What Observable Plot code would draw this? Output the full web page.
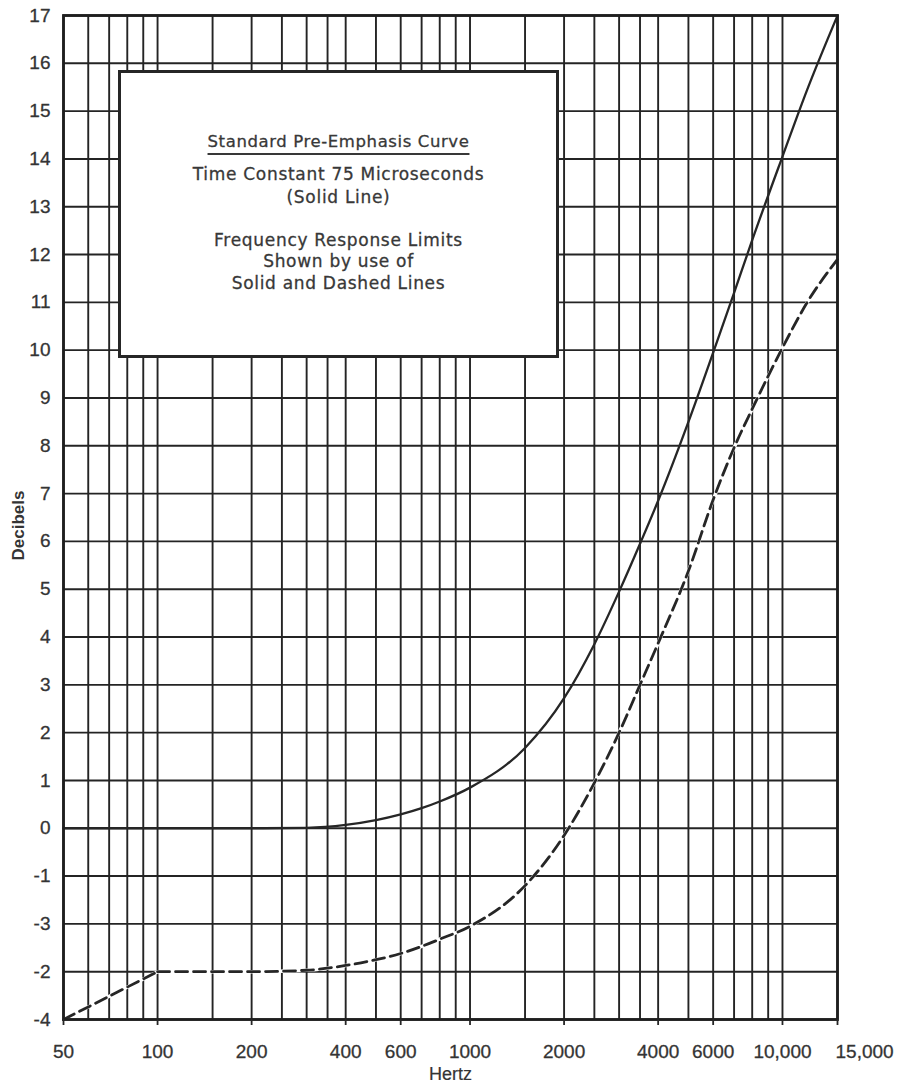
<!DOCTYPE html>
<html>
<head>
<meta charset="utf-8">
<script src="https://cdn.jsdelivr.net/npm/d3@7"></script>
<script src="https://cdn.jsdelivr.net/npm/@observablehq/plot@0.6"></script>
<style>
  html, body { margin: 0; padding: 0; background: #fff; }
  #wrap { position: relative; width: 898px; height: 1084px; }
  #legend { position: absolute; left: 118px; top: 70px; width: 441px; height: 288px; box-sizing: border-box; border: 3px solid #262626; background: #fff; }
  .ln { position: absolute; left: 118px; width: 441px; height: 22px; line-height: 22px; text-align: center; font-family: "DejaVu Sans", sans-serif; font-size: 17px; letter-spacing: 0.7px; color: #383838; -webkit-text-stroke: 0.3px #383838; white-space: nowrap; }
  .ln.title { font-size: 16.5px; letter-spacing: 0.6px; }
  .ln.title span { text-decoration: underline; text-decoration-thickness: 2px; text-underline-offset: 6px; }
</style>
</head>
<body>
<div id="wrap"></div>
<script>
// ---- data ----
const solidFreq = [50, 100, 200, 300, 400, 500, 600, 700, 800, 1000, 1500, 2000, 2500, 3000, 3500, 4000, 5000, 6000, 7000, 8000, 10000, 12000, 15000];
const solidDb   = [0, 0, 0, 0.01, 0.07, 0.17, 0.29, 0.42, 0.56, 0.85, 1.68, 2.72, 3.85, 4.95, 5.95, 6.85, 8.5, 9.95, 11.2, 12.3, 14.05, 15.45, 17];

const dashFreq = [50, 100, 200, 300, 400, 500, 600, 700, 800, 1000, 1500, 2000, 2500, 3000, 3500, 4000, 5000, 6000, 7000, 8000, 10000, 12000, 15000];
const dashDb   = [-4, -3, -3, -2.97, -2.87, -2.75, -2.62, -2.47, -2.32, -2.05, -1.2, -0.15, 0.95, 2.0, 3.0, 3.87, 5.38, 6.87, 7.96, 8.77, 10.05, 11.0, 11.9];

const gridFreq = [50, 60, 70, 80, 90, 100, 150, 200, 250, 300, 350, 400, 500, 600, 700, 800, 900, 1000, 1500, 2000, 2500, 3000, 3500, 4000, 5000, 6000, 7000, 8000, 9000, 10000, 15000];
const gridDb = [-4, -3, -2, -1, 0, 1, 2, 3, 4, 5, 6, 7, 8, 9, 10, 11, 12, 13, 14, 15, 16, 17];

const xTicks = [50, 100, 200, 400, 600, 1000, 2000, 4000, 6000, 10000, 15000];
const xTickLabels = ["50", "100", "200", "400", "600", "1000", "2000", "4000", "6000", "10,000", "15,000"];

const yTicks = [17, 16, 15, 14, 13, 12, 11, 10, 9, 8, 7, 6, 5, 4, 3, 2, 1, 0, -1, -2, -3, -4];
const yTickLabels = ["17", "16", "15", "14", "13", "12", "11", "10", "9", "8", "7", "6", "5", "4", "3", "2", "1", "0", "-1", "-3", "-2", "-4"];

const xLabel = "Hertz";
const yLabel = "Decibels";
const legendLines = [
  "Standard Pre-Emphasis Curve",
  "Time Constant 75 Microseconds",
  "(Solid Line)",
  "Frequency Response Limits",
  "Shown by use of",
  "Solid and Dashed Lines"
];

// ---- build ----
const solid = solidFreq.map((f, i) => ({f, db: solidDb[i]}));
const dashed = dashFreq.map((f, i) => ({f, db: dashDb[i]}));
const dashedRamp = dashed.slice(0, 2);   // straight ramp 50–100 Hz
const dashedCurve = dashed.slice(1);     // smooth part from 100 Hz on
const fmtX = d => xTickLabels[xTicks.indexOf(d)];
const fmtY = d => yTickLabels[yTicks.indexOf(d)];
const ink = "#262626";
const textInk = "#343434";
const xMain = xTicks.slice(0, -1);
const xLast = xTicks.slice(-1);

const chart = Plot.plot({
  width: 898,
  height: 1084,
  marginLeft: 63,
  marginRight: 61,
  marginTop: 15,
  marginBottom: 65,
  style: {fontFamily: '"Liberation Sans", Arial, sans-serif', fontSize: "19px", color: textInk, background: "#fff"},
  x: {type: "log", domain: [50, 15000], axis: null},
  y: {domain: [-4, 17], axis: null},
  marks: [
    Plot.ruleX(gridFreq, {stroke: "#242424", strokeWidth: 1.9}),
    Plot.ruleY(gridDb, {stroke: "#242424", strokeWidth: 1.9}),
    Plot.line(dashedRamp, {x: "f", y: "db", stroke: "#fff", strokeWidth: 3.4}),
    Plot.line(dashedCurve, {x: "f", y: "db", curve: "monotone-x", stroke: "#fff", strokeWidth: 3.4}),
    Plot.line(dashedRamp, {x: "f", y: "db", stroke: ink, strokeWidth: 2.8, strokeDasharray: "12,6"}),
    Plot.line(dashedCurve, {x: "f", y: "db", curve: "monotone-x", stroke: ink, strokeWidth: 2.8, strokeDasharray: "12,6"}),
    Plot.line(solid, {x: "f", y: "db", curve: "monotone-x", stroke: ink, strokeWidth: 2.3}),
    Plot.frame({stroke: "#1e1e1e", strokeWidth: 2.8}),
    Plot.axisX({ticks: xTicks, tickSize: 6, tickFormat: () => "", label: null, stroke: ink, strokeWidth: 1.8}),
    Plot.text(xMain, {x: d => d, text: fmtX, frameAnchor: "bottom", lineAnchor: "middle", dy: 32, fontSize: 19, letterSpacing: 0.2, fill: textInk, stroke: textInk, strokeWidth: 0.3}),
    Plot.text(xLast, {x: d => d, text: fmtX, frameAnchor: "bottom", lineAnchor: "middle", textAnchor: "start", dx: -2, dy: 32, fontSize: 19, fill: textInk, stroke: textInk, strokeWidth: 0.3}),
    Plot.text(yTicks, {y: d => d, text: fmtY, frameAnchor: "left", textAnchor: "end", dx: -13, fontSize: 19, fill: textInk, stroke: textInk, strokeWidth: 0.3}),
    Plot.text([xLabel], {frameAnchor: "bottom", lineAnchor: "middle", dy: 55, fontSize: 18, fill: textInk, stroke: textInk, strokeWidth: 0.2}),
    Plot.text([yLabel], {frameAnchor: "left", textAnchor: "middle", dx: -45, dy: 8, rotate: -90, fontWeight: "bold", fontSize: 17, fill: textInk})
  ]
});

const wrap = document.getElementById("wrap");
wrap.appendChild(chart);

const box = document.createElement("div");
box.id = "legend";
wrap.appendChild(box);

const centers = [142, 174, 197, 240, 261, 283];
legendLines.forEach((t, i) => {
  const d = document.createElement("div");
  d.className = "ln" + (i === 0 ? " title" : "");
  d.style.top = (centers[i] - 11) + "px";
  if (i === 0) {
    const s = document.createElement("span");
    s.textContent = t;
    d.appendChild(s);
  } else {
    d.textContent = t;
  }
  wrap.appendChild(d);
});
</script>
</body>
</html>
